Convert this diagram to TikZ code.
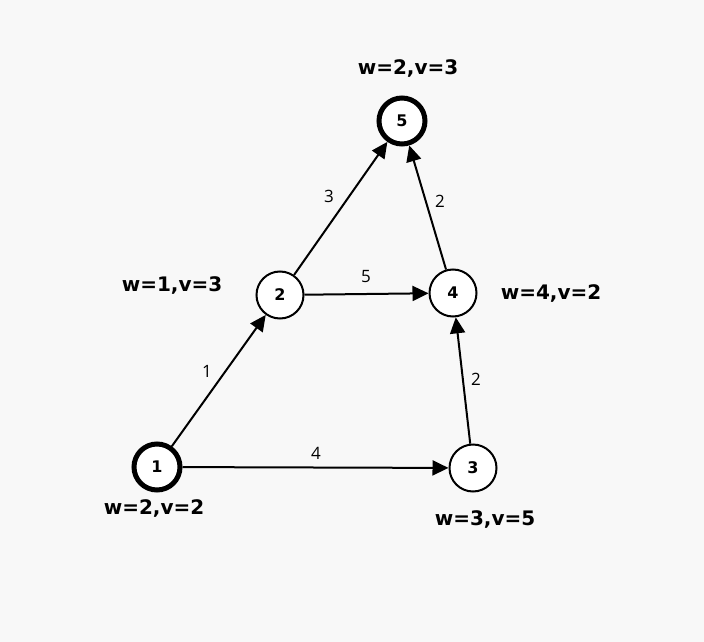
\documentclass[tikz,border=0pt]{standalone}
\usepackage{fontspec}
\setmainfont{Open Sans}
\newfontfamily\wfont{DejaVu Sans}
\usepackage{tikz}
\usetikzlibrary{arrows.meta,positioning}

\definecolor{bggray}{HTML}{F8F8F8}

\tikzset{
    vert/.style={circle, draw, fill=white, line width=2pt, minimum size=47pt, inner sep=0pt, font=\wfont\fontsize{16}{18}\selectfont\bfseries},
    vertbold/.style={vert, line width=5pt, minimum size=46pt},
    wlabel/.style={font=\wfont\fontsize{20}{24}\selectfont\bfseries},
    elabel/.style={font=\fontsize{17}{20}\selectfont},
    arc/.style={line width=2pt, -{Triangle[length=16pt, width=15pt]}}
}

\begin{document}
\begin{tikzpicture}[x=1pt, y=-1pt]
    % Background
    \fill[bggray] (0,0) rectangle (704,642);

    % Vertices
    \node[vertbold] (v1) at (157,467) {1};
    \node[vert] (v2) at (280,295) {2};
    \node[vert] (v3) at (473,468) {3};
    \node[vert] (v4) at (453,293) {4};
    \node[vertbold] (v5) at (402,121) {5};

    % Weights and values
    \node[wlabel] (w1) at (154,508) {w=2,v=2};
    \node[wlabel] (w2) at (172,285) {w=1,v=3};
    \node[wlabel] (w3) at (485,519) {w=3,v=5};
    \node[wlabel] (w4) at (551,293) {w=4,v=2};
    \node[wlabel] (w5) at (408,68) {w=2,v=3};

    % Edges
    \draw[arc] (v1) -- (v2);
    \draw[arc] (v1) -- (v3);
    \draw[arc] (v2) -- (v4);
    \draw[arc] (v3) -- (v4);
    \draw[arc] (v2) -- (v5);
    \draw[arc] (v4) -- (v5);

    % Edge lengths
    \node[elabel] (e12) at (207,371) {1};
    \node[elabel] (e13) at (316,453) {4};
    \node[elabel] (e24) at (366,277) {5};
    \node[elabel] (e34) at (476,379) {2};
    \node[elabel] (e25) at (329,196) {3};
    \node[elabel] (e45) at (440,201) {2};
\end{tikzpicture}
\end{document}
